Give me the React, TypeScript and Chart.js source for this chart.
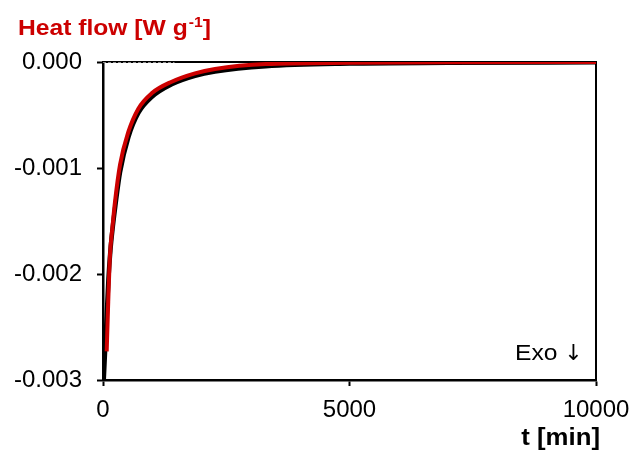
import React, { useEffect, useRef } from "react";
import { Chart, registerables } from "chart.js";

Chart.register(...registerables);

// ---- Data ----
const tRed = [75, 100, 142, 189, 243, 345, 514, 717, 987, 1393, 1866, 2272, 3300, 5000, 7000, 10000];
const heatFlowRed = [-0.00273, -0.00235, -0.00182, -0.00157, -0.00132, -0.00097, -0.00066, -0.00044, -0.000295, -0.000186, -0.000107, -0.000066, -0.00002, -0.000008, -0.000003, 0];

const tBlack = [15, 45, 75, 110, 150, 200, 250, 345, 514, 717, 987, 1393, 1866, 2272, 3300, 5000, 7000, 10000];
const heatFlowBlack = [-0.003, -0.0027, -0.0024, -0.00205, -0.00178, -0.00155, -0.00136, -0.00104, -0.00071, -0.00048, -0.00033, -0.00021, -0.00013, -0.00009, -0.00004, -0.000015, -0.000008, -0.000003];

const tBaseline = [0, 1450];
const baselineValues = [0, 0];

const xTicks = [0, 5000, 10000];
const yTicks = [0, -0.001, -0.002, -0.003];

const yTitleMain = "Heat flow [W g";
const yTitleSup = "-1";
const yTitleEnd = "]";
const xTitle = "t [min]";
const exoText = "Exo ";
const exoArrow = "↓";

const FONT = "'Liberation Sans', Arial, sans-serif";
const RED = "#cc0000";
const STRETCH = 1.12;

const toPoints = (xs: number[], ys: number[]) => xs.map((x, i) => ({ x, y: ys[i] }));

export default function App() {
  const ref = useRef<HTMLCanvasElement>(null);

  useEffect(() => {
    if (!ref.current) return;

    const framePlugin = {
      id: "frame",
      beforeDatasetsDraw(chart: any) {
        const { ctx, chartArea } = chart;
        ctx.save();
        ctx.strokeStyle = "#000";
        ctx.lineWidth = 2;
        ctx.beginPath();
        ctx.moveTo(chartArea.left, chartArea.top);
        ctx.lineTo(chartArea.right, chartArea.top);
        ctx.lineTo(chartArea.right, chartArea.bottom);
        ctx.stroke();
        ctx.restore();
      },
      afterDraw(chart: any) {
        const { ctx } = chart;
        const stretchedText = (text: string, x: number, y: number, font: string, align: "left" | "right") => {
          ctx.save();
          ctx.font = font;
          ctx.textBaseline = "alphabetic";
          const w = ctx.measureText(text).width * STRETCH;
          const startX = align === "right" ? x - w : x;
          ctx.translate(startX, y);
          ctx.scale(STRETCH, 1);
          ctx.textAlign = "left";
          ctx.fillText(text, 0, 0);
          ctx.restore();
          return w;
        };
        ctx.save();
        // y title
        ctx.fillStyle = RED;
        let x = 18;
        x += stretchedText(yTitleMain, x, 35, `bold 22px ${FONT}`, "left");
        x += stretchedText(yTitleSup, x + 1, 27, `bold 14px ${FONT}`, "left") + 1;
        stretchedText(yTitleEnd, x, 35, `bold 22px ${FONT}`, "left");
        // x title
        ctx.fillStyle = "#000";
        stretchedText(xTitle, 600, 445, `bold 23px ${FONT}`, "right");
        // Exo annotation
        const w = stretchedText(exoText, 515, 360, `22px ${FONT}`, "left");
        ctx.font = `22px 'DejaVu Sans', sans-serif`;
        ctx.textAlign = "left";
        ctx.textBaseline = "alphabetic";
        ctx.fillText(exoArrow, 515 + w, 360);
        ctx.restore();
      },
    };

    const chart = new Chart(ref.current, {
      type: "line",
      data: {
        datasets: [
          {
            label: "red",
            data: toPoints(tRed, heatFlowRed),
            borderColor: RED,
            borderWidth: 4,
            pointRadius: 0,
            cubicInterpolationMode: "monotone",
            fill: false,
          },
          {
            label: "black",
            data: toPoints(tBlack, heatFlowBlack),
            borderColor: "#000",
            borderWidth: 4.5,
            pointRadius: 0,
            cubicInterpolationMode: "monotone",
            fill: false,
          },
          {
            label: "baseline",
            data: toPoints(tBaseline, baselineValues),
            borderColor: "#888",
            borderWidth: 2,
            borderDash: [3, 2],
            pointRadius: 0,
            fill: false,
          },
        ],
      },
      options: {
        animation: false,
        responsive: false,
        devicePixelRatio: 1,
        layout: { padding: { top: 62, right: 37, left: 0, bottom: 0 } },
        plugins: { legend: { display: false }, tooltip: { enabled: false }, title: { display: false } },
        scales: {
          x: {
            type: "linear",
            min: 0,
            max: 10000,
            afterBuildTicks: (scale: any) => {
              scale.ticks = xTicks.map((v) => ({ value: v }));
            },
            afterFit: (scale: any) => {
              scale.height = 71;
              scale.paddingLeft = 0;
              scale.paddingRight = 0;
            },
            ticks: {
              color: "#000",
              font: { family: FONT, size: 24 },
              padding: 10,
              maxRotation: 0,
              callback: (v: any) => String(v),
            },
            grid: { drawOnChartArea: false, drawTicks: true, tickLength: 6, tickColor: "#000", tickWidth: 2 },
            border: { display: true, color: "#000", width: 2.5 },
          },
          y: {
            type: "linear",
            min: -0.003,
            max: 0,
            afterBuildTicks: (scale: any) => {
              scale.ticks = yTicks.map((v) => ({ value: v }));
            },
            afterFit: (scale: any) => {
              scale.width = 103;
              scale.paddingTop = 0;
              scale.paddingBottom = 0;
            },
            ticks: {
              color: "#000",
              font: { family: FONT, size: 24 },
              padding: 15,
              callback: (v: any) => Number(v).toFixed(3).replace("-0.000", "0.000"),
            },
            grid: { drawOnChartArea: false, drawTicks: true, tickLength: 6, tickColor: "#000", tickWidth: 2 },
            border: { display: true, color: "#000", width: 2.5 },
          },
        },
      },
      plugins: [framePlugin],
    } as any);

    return () => chart.destroy();
  }, []);

  return (
    <div style={{ position: "absolute", left: 0, top: 0, width: 633, height: 451, background: "#fff" }}>
      <canvas ref={ref} width={633} height={451} style={{ width: 633, height: 451, display: "block" }} />
    </div>
  );
}
